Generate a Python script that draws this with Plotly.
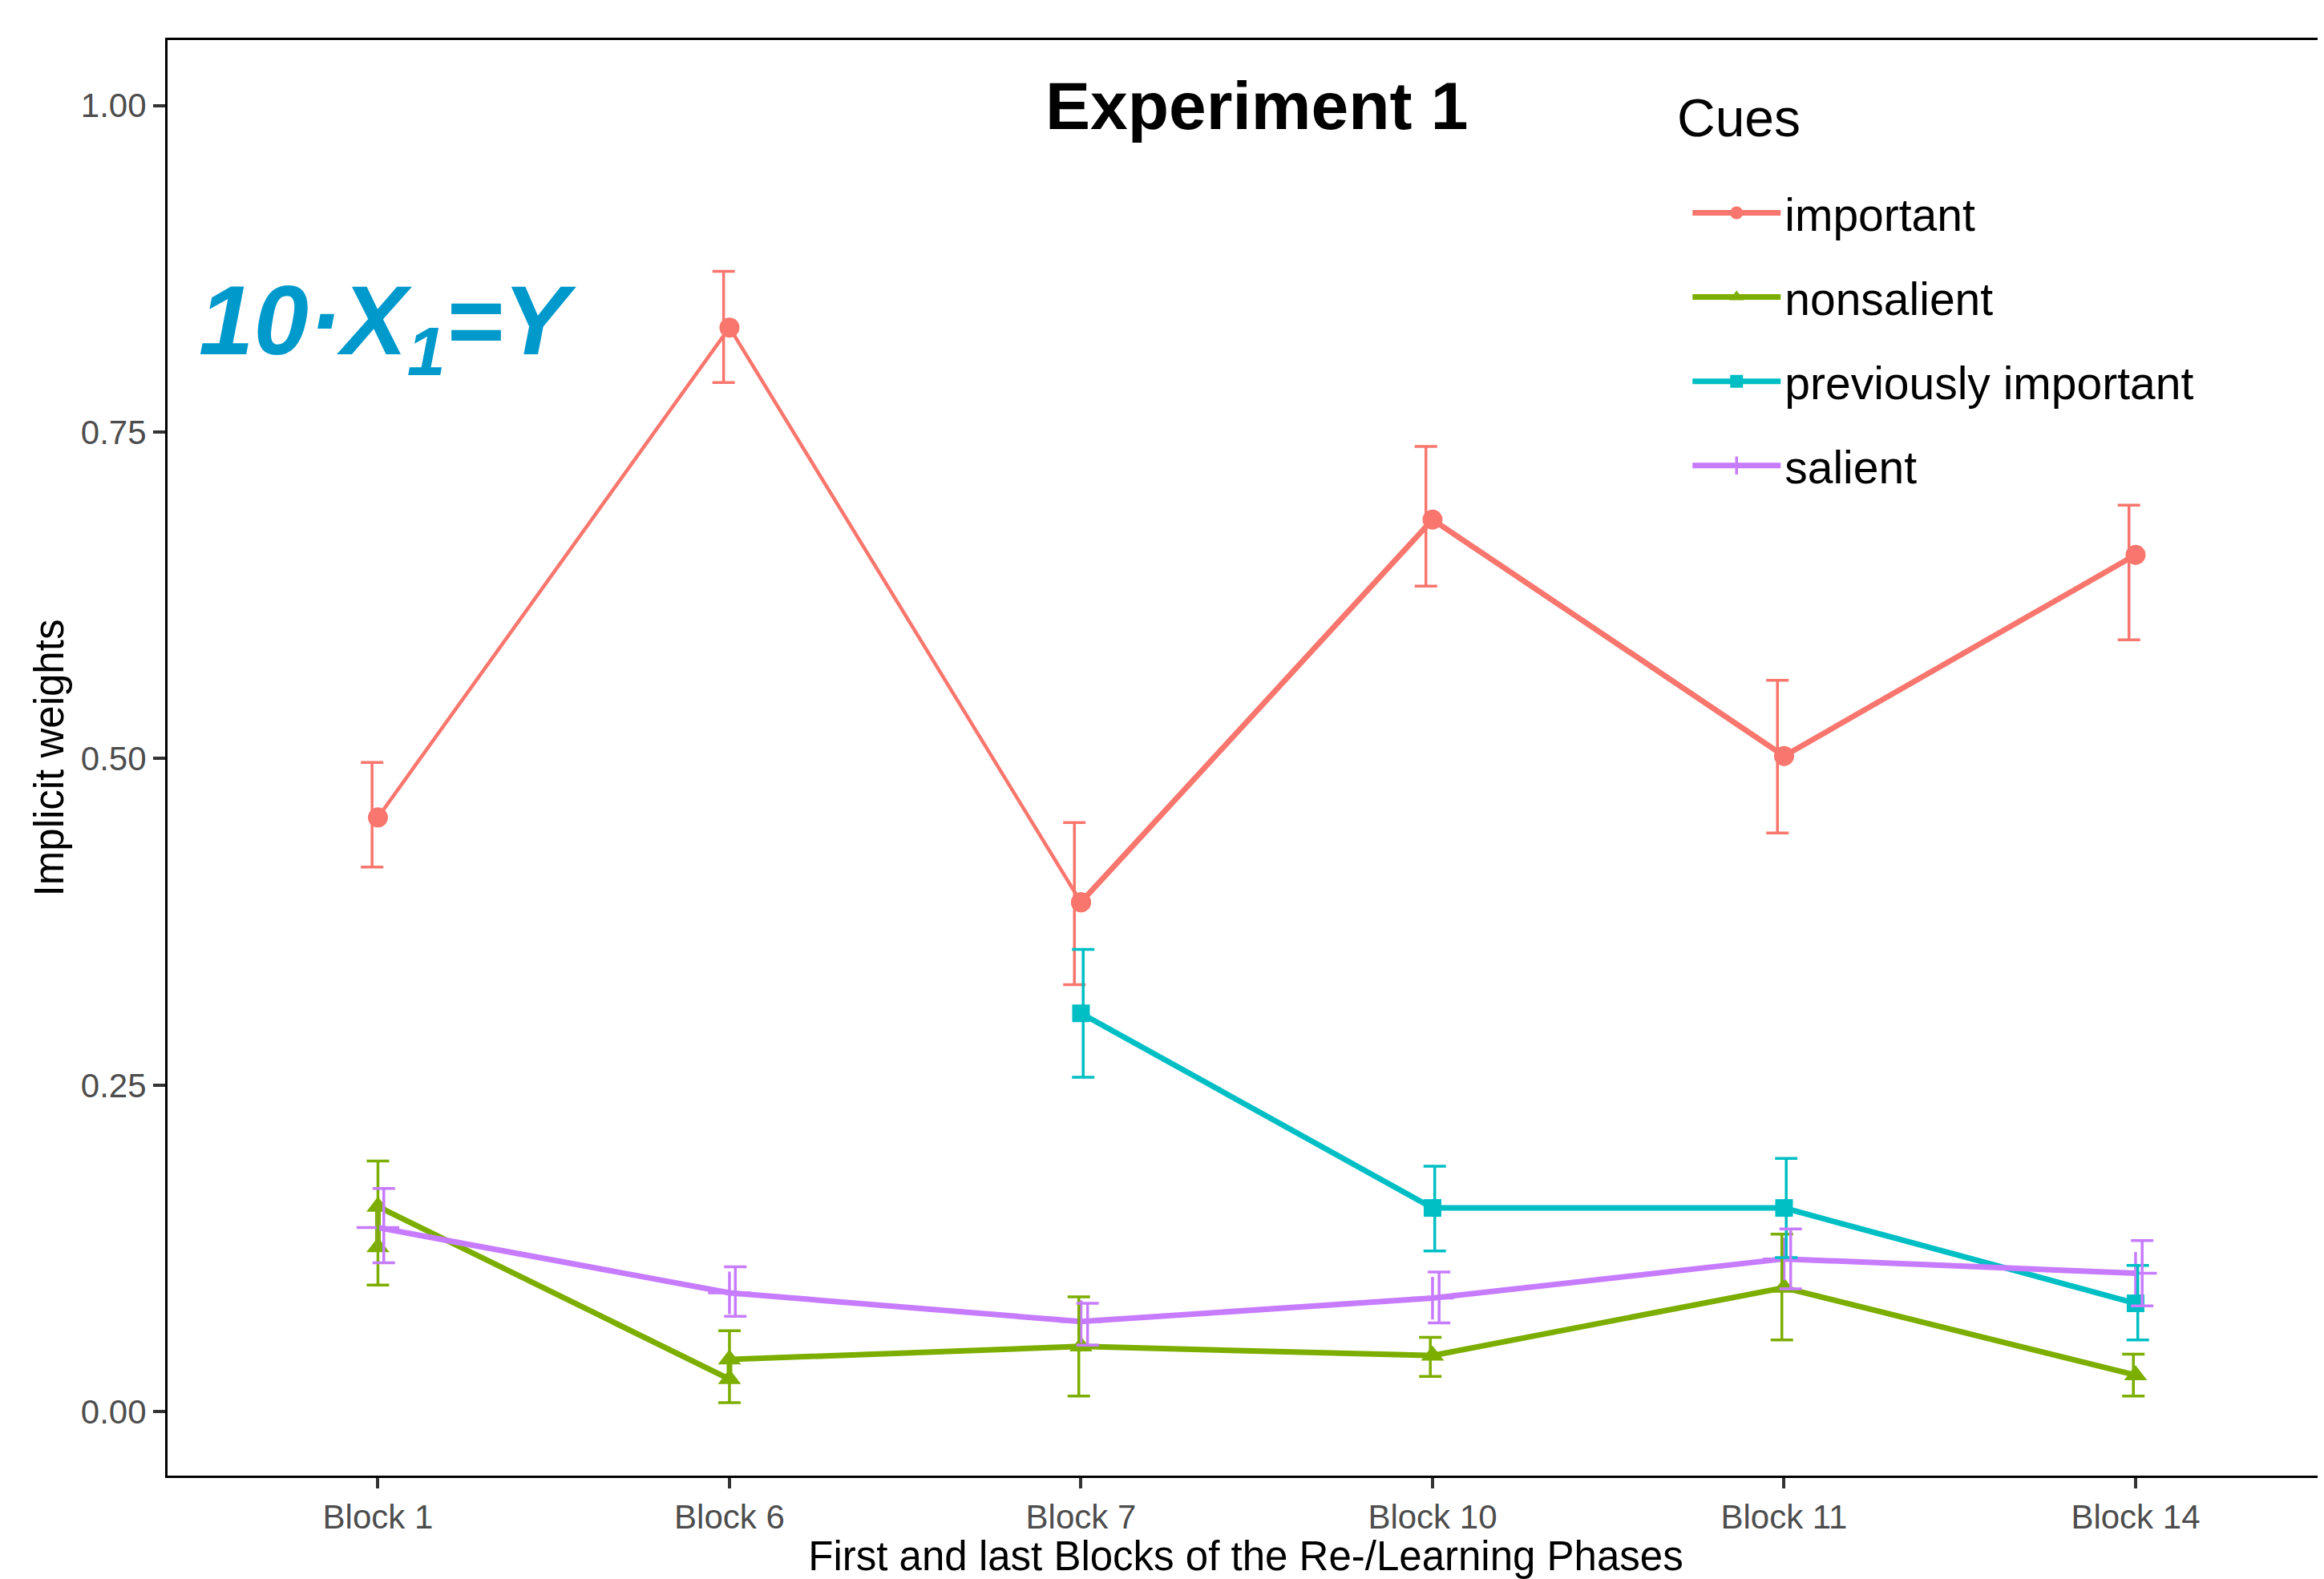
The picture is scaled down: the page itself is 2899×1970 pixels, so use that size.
import plotly.graph_objects as go

# ---------------- data ----------------
blocks = ["Block 1", "Block 6", "Block 7", "Block 10", "Block 11", "Block 14"]
cues = ["important", "nonsalient", "previously important", "salient"]
colors = {"important": "#F8766D", "nonsalient": "#7CAE00",
          "previously important": "#00BFC4", "salient": "#C77CFF"}

# point series (x labels, y means)
important_x = ["Block 1", "Block 6", "Block 7", "Block 10", "Block 11", "Block 14"]
important_y = [0.455, 0.830, 0.390, 0.683, 0.502, 0.656]
nonsalient_x = ["Block 1", "Block 1", "Block 6", "Block 6", "Block 7", "Block 10", "Block 11", "Block 14"]
nonsalient_y = [0.126, 0.157, 0.025, 0.040, 0.050, 0.043, 0.095, 0.028]
previmp_x = ["Block 7", "Block 10", "Block 11", "Block 14"]
previmp_y = [0.305, 0.156, 0.156, 0.083]
salient_x = ["Block 1", "Block 6", "Block 7", "Block 10", "Block 11", "Block 14"]
salient_y = [0.141, 0.091, 0.069, 0.087, 0.117, 0.106]

# error bars (lower / upper)
important_err_x = ["Block 1", "Block 6", "Block 7", "Block 10", "Block 11", "Block 14"]
important_lo = [0.417, 0.788, 0.327, 0.632, 0.443, 0.591]
important_hi = [0.497, 0.873, 0.451, 0.739, 0.560, 0.694]
nonsalient_err_x = ["Block 1", "Block 6", "Block 7", "Block 10", "Block 11", "Block 14"]
nonsalient_lo = [0.097, 0.007, 0.012, 0.027, 0.055, 0.012]
nonsalient_hi = [0.192, 0.062, 0.088, 0.057, 0.136, 0.044]
previmp_err_x = ["Block 7", "Block 10", "Block 11", "Block 14"]
previmp_lo = [0.256, 0.123, 0.118, 0.055]
previmp_hi = [0.354, 0.188, 0.194, 0.112]
salient_err_x = ["Block 1", "Block 6", "Block 7", "Block 10", "Block 11", "Block 14"]
salient_lo = [0.114, 0.073, 0.051, 0.068, 0.094, 0.081]
salient_hi = [0.171, 0.111, 0.083, 0.107, 0.140, 0.131]

y_ticks = [0, 0.25, 0.5, 0.75, 1.0]
y_ticktext = ["0.00", "0.25", "0.50", "0.75", "1.00"]

# ---------------- helpers ----------------
FONT = "Liberation Sans, Arial, sans-serif"
idx = {b: i for i, b in enumerate(blocks)}
DODGE = 0.05

points = {
    "important": (important_x, important_y),
    "nonsalient": (nonsalient_x, nonsalient_y),
    "previously important": (previmp_x, previmp_y),
    "salient": (salient_x, salient_y),
}
errors = {
    "important": (important_err_x, important_lo, important_hi),
    "nonsalient": (nonsalient_err_x, nonsalient_lo, nonsalient_hi),
    "previously important": (previmp_err_x, previmp_lo, previmp_hi),
    "salient": (salient_err_x, salient_lo, salient_hi),
}
markers = {
    "important": dict(symbol="circle", size=25),
    "nonsalient": dict(symbol="triangle-up", size=25),
    "previously important": dict(symbol="square", size=22),
    "salient": dict(symbol="cross-thin", size=38, line=dict(width=3.5)),
}

fig = go.Figure()

# thin first part of the "important" line (Block 1 -> Block 6 -> Block 7)
ix, iy = points["important"]
fig.add_trace(go.Scatter(
    x=[idx[b] for b in ix[:3]], y=iy[:3], mode="lines+markers",
    line=dict(color=colors["important"], width=4.5),
    marker=dict(color=colors["important"], **markers["important"]),
    showlegend=False, hoverinfo="skip"))

for c in cues:
    xs, ys = points[c]
    if c == "important":
        xs, ys = xs[2:], ys[2:]
    mk = dict(markers[c])
    mk["color"] = colors[c]
    if "line" in mk:
        mk["line"] = dict(mk["line"], color=colors[c])
    fig.add_trace(go.Scatter(
        x=[idx[b] for b in xs], y=ys, mode="lines+markers", name=c,
        legendgroup=c,
        line=dict(color=colors[c], width=7),
        marker=mk))

# dodged error bars
present = {b: [c for c in cues if b in errors[c][0]] for b in blocks}
for c in cues:
    ex, lo, hi = errors[c]
    xpos = []
    for b in ex:
        grp = present[b]
        n = len(grp)
        k = grp.index(c)
        xpos.append(idx[b] + DODGE * ((k + 0.5) / n - 0.5))
    fig.add_trace(go.Scatter(
        x=xpos, y=lo, mode="markers",
        marker=dict(size=1, color="rgba(0,0,0,0)"),
        error_y=dict(type="data", symmetric=False,
                     array=[h - l for h, l in zip(hi, lo)],
                     arrayminus=[0] * len(lo),
                     color=colors[c], thickness=3.5, width=14),
        showlegend=False, hoverinfo="skip"))

fig.add_annotation(x=2.5, y=1.0, xref="x", yref="y", text="<b>Experiment 1</b>",
                   showarrow=False, xanchor="center", yanchor="middle",
                   font=dict(family=FONT, size=84, color="black"))

fig.add_annotation(x=0.0137, y=0.80, xref="paper", yref="paper",
                   text="10·X<sub>1</sub>=Y", showarrow=False,
                   xanchor="left", yanchor="middle",
                   font=dict(family=FONT, size=123, color="#0099CC",
                             weight="bold", style="italic"))

# legend title
fig.add_annotation(x=0.6993, y=0.946, xref="paper", yref="paper",
                   text="Cues", showarrow=False, xanchor="left", yanchor="middle",
                   font=dict(family=FONT, size=66, color="black"))

# The page body has an 8px default margin, so the figure is 8px smaller
fig.update_layout(
    width=2891, height=1962,
    margin=dict(l=200.5, r=0, t=42.4, b=129.4, autoexpand=False),
    paper_bgcolor="white", plot_bgcolor="white",
    font=dict(family=FONT),
    showlegend=True,
    legend=dict(x=0.7053, y=0.904, xanchor="left", yanchor="top",
                font=dict(family=FONT, size=57, color="black"),
                tracegroupgap=28, itemwidth=110,
                bgcolor="rgba(0,0,0,0)"),
    xaxis=dict(range=[-0.5985, 5.536], tickmode="array", automargin=False,
               tickvals=list(range(len(blocks))), ticktext=blocks,
               showgrid=False, zeroline=False,
               showline=True, linecolor="black", linewidth=3, mirror=True,
               ticks="outside", ticklen=13, tickwidth=3.5, tickcolor="#333333",
               tickfont=dict(family=FONT, size=42, color="#4D4D4D"),
               title=dict(text="First and last Blocks of the Re-/Learning Phases",
                          font=dict(family=FONT, size=51, color="black"), standoff=28)),
    yaxis=dict(range=[-0.0489, 1.0501], tickmode="array", automargin=False,
               tickvals=y_ticks, ticktext=y_ticktext,
               showgrid=False, zeroline=False,
               showline=True, linecolor="black", linewidth=3, mirror=False,
               ticks="outside", ticklen=15, tickwidth=3.5, tickcolor="#333333",
               tickfont=dict(family=FONT, size=42, color="#4D4D4D"),
               title=dict(text="Implicit weights",
                          font=dict(family=FONT, size=51, color="black"), standoff=5)),
)

fig.write_html("out.html")
